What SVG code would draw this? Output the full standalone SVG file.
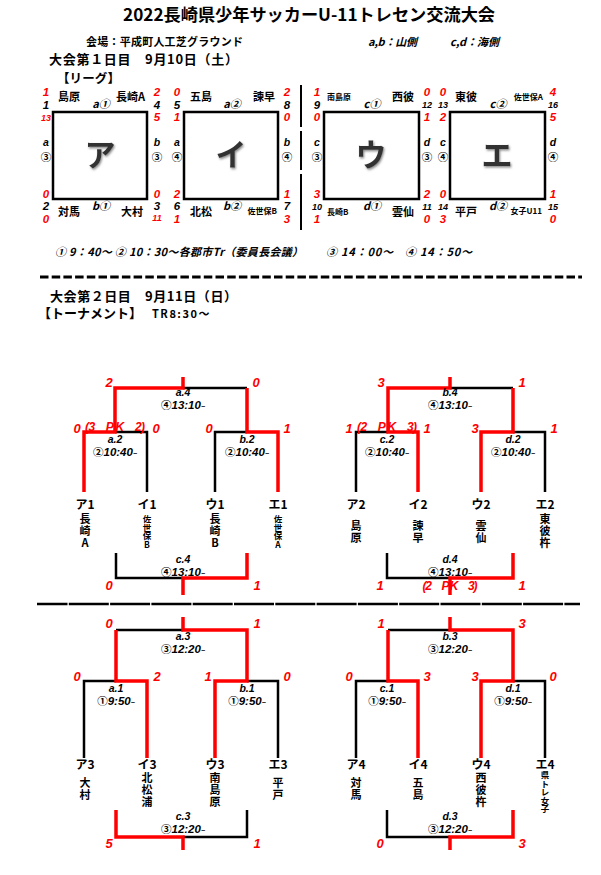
<svg xmlns="http://www.w3.org/2000/svg" width="601" height="875" viewBox="0 0 601 875">
<defs>
<style>
text{font-family:"Liberation Sans","Noto Sans CJK JP",sans-serif;font-weight:bold;fill:#000}
.j{font-family:"Noto Sans CJK JP",sans-serif}
.c{text-anchor:middle}
.e{text-anchor:end}
.r{fill:#f00}
.k0{fill:#000}
.i{font-style:italic}
.n{font-size:13px;text-anchor:middle;font-style:italic}
.q{font-size:11.5px;text-anchor:middle;font-style:italic}
.sm{font-size:9px}
.tm{font-size:11px;font-family:"Noto Sans CJK JP",sans-serif}
.ts{font-size:8px;font-family:"Noto Sans CJK JP",sans-serif}
.cir{font-size:11px;font-family:"Noto Sans CJK JP",sans-serif;text-anchor:middle}
.cj{font-family:"Noto Sans CJK JP",sans-serif;font-style:normal;font-size:10.5px}
.box{fill:#fff;stroke:#000;stroke-width:2.5}
.big{font-size:31px;font-family:"Noto Sans CJK JP",sans-serif;fill:#333;text-anchor:middle;filter:url(#sh)}
.k{fill:none;stroke:#000;stroke-width:2.5}
.rd{fill:none;stroke:#f00;stroke-width:3.5}
.ml{font-size:10.5px;font-style:italic;text-anchor:middle}
.mt{font-size:11.5px}
.tl{font-size:12px;text-anchor:middle;font-family:"Noto Sans CJK JP",sans-serif}
.v{writing-mode:vertical-rl;text-orientation:upright;font-family:"Noto Sans CJK JP",sans-serif;font-size:11px;letter-spacing:1px}
.vs{writing-mode:vertical-rl;text-orientation:upright;font-family:"Noto Sans CJK JP",sans-serif;font-size:8.5px}
.pk{font-size:12px;font-style:italic;text-anchor:middle;fill:#f00}
</style>
<filter id="sh" x="-20%" y="-20%" width="140%" height="140%"><feDropShadow dx="1" dy="1.5" stdDeviation="1" flood-color="#888"/></filter>
</defs>
<rect width="601" height="875" fill="#fff"/>

<g id="header">
<text class="c j" x="309" y="21" font-size="17" textLength="372" lengthAdjust="spacingAndGlyphs">2022長崎県少年サッカーU-11トレセン交流大会</text>
<text class="j" x="86" y="46" font-size="11" textLength="157">会場：平成町人工芝グラウンド</text>
<text class="j i" x="368" y="46" font-size="11" textLength="49">a,b：山側</text>
<text class="j i" x="450" y="46" font-size="11" textLength="49">c,d：海側</text>
<text class="j" x="49" y="64" font-size="13" textLength="189">大会第１日目　9月10日（土）</text>
<text class="j" x="57" y="83" font-size="12.5" textLength="63">【リーグ】</text>
</g>

<line x1="301" y1="85" x2="301" y2="230" stroke="#000" stroke-width="2" stroke-dasharray="42 4 39 4 60"/>

<g id="league-a">
<rect class="box" x="53" y="112" width="94" height="87"/>
<text class="big" x="100" y="166">ア</text>
<text class="q r" x="46" y="96">1<tspan class="k0" x="46" dy="12.5">1</tspan><tspan class="sm" x="46" dy="12.5">13</tspan></text>
<text class="q r" x="157" y="96">2<tspan class="k0" x="157" dy="12.5">4</tspan><tspan x="157" dy="12.5">5</tspan></text>
<text class="ml" x="46" y="146">a<tspan class="cj" x="46" dy="15">③</tspan></text>
<text class="ml" x="157" y="146">b<tspan class="cj" x="157" dy="15">③</tspan></text>
<text class="q r" x="46" y="197.5">0<tspan class="k0" x="46" dy="12.5">2</tspan><tspan x="46" dy="12.5">0</tspan></text>
<text class="q r" x="157" y="197.5">0<tspan class="k0" x="157" dy="12.5">3</tspan><tspan class="sm" x="157" dy="11">11</tspan></text>
<text class="tm" x="58" y="101">島原</text><text class="cir i" x="101" y="108">a①</text><text class="tm e" x="145" y="101" font-size="10.5">長崎A</text>
<text class="tm" x="58" y="216">対馬</text><text class="cir i" x="101" y="210">b①</text><text class="tm e" x="143" y="216">大村</text>
</g>

<g id="league-i">
<rect class="box" x="184" y="112" width="94" height="87"/>
<text class="big" x="231" y="166">イ</text>
<text class="q r" x="177" y="96">0<tspan class="k0" x="177" dy="12.5">5</tspan><tspan x="177" dy="12.5">1</tspan></text>
<text class="q r" x="287" y="96">2<tspan class="k0" x="287" dy="12.5">8</tspan><tspan x="287" dy="12.5">0</tspan></text>
<text class="ml" x="177" y="146">a<tspan class="cj" x="177" dy="15">④</tspan></text>
<text class="ml" x="287" y="146">b<tspan class="cj" x="287" dy="15">④</tspan></text>
<text class="q r" x="177" y="197.5">2<tspan class="k0" x="177" dy="12.5">6</tspan><tspan x="177" dy="12.5">1</tspan></text>
<text class="q r" x="287" y="197.5">1<tspan class="k0" x="287" dy="12.5">7</tspan><tspan x="287" dy="12.5">3</tspan></text>
<text class="tm" x="190" y="101">五島</text><text class="cir i" x="232" y="108">a②</text><text class="tm e" x="275" y="101">諫早</text>
<text class="tm" x="190" y="216">北松</text><text class="cir i" x="232" y="210">b②</text><text class="ts e" x="277" y="214">佐世保B</text>
</g>

<g id="league-u">
<rect class="box" x="324" y="112" width="95" height="87"/>
<text class="big" x="371" y="166">ウ</text>
<text class="q r" x="317" y="96">1<tspan class="k0" x="317" dy="12.5">9</tspan><tspan x="317" dy="12.5">0</tspan></text>
<text class="q r" x="427" y="96">0<tspan class="k0 sm" x="427" dy="12">12</tspan><tspan x="427" dy="13">1</tspan></text>
<text class="ml" x="317" y="146">c<tspan class="cj" x="317" dy="15">③</tspan></text>
<text class="ml" x="427" y="146">d<tspan class="cj" x="427" dy="15">③</tspan></text>
<text class="q r" x="317" y="197.5">3<tspan class="k0 sm" x="317" dy="12.5">10</tspan><tspan x="317" dy="12.5">1</tspan></text>
<text class="q r" x="427" y="197.5">2<tspan class="k0 sm" x="427" dy="12.5">11</tspan><tspan x="427" dy="12.5">0</tspan></text>
<text class="ts" x="327" y="100" font-size="8.7">南島原</text><text class="cir i" x="372" y="108">c①</text><text class="tm e" x="414" y="101">西彼</text>
<text class="ts" x="327" y="215" font-size="9.5">長崎B</text><text class="cir i" x="372" y="210">d①</text><text class="tm e" x="414" y="216">雲仙</text>
</g>

<g id="league-e">
<rect class="box" x="450" y="112" width="95" height="87"/>
<text class="big" x="497" y="166">エ</text>
<text class="q r" x="443" y="96">0<tspan class="k0 sm" x="443" dy="12">13</tspan><tspan x="443" dy="13">2</tspan></text>
<text class="q r" x="553" y="96">4<tspan class="k0 sm" x="553" dy="12">16</tspan><tspan x="553" dy="13">5</tspan></text>
<text class="ml" x="443" y="146">c<tspan class="cj" x="443" dy="15">④</tspan></text>
<text class="ml" x="553" y="146">d<tspan class="cj" x="553" dy="15">④</tspan></text>
<text class="q r" x="443" y="197.5">0<tspan class="k0 sm" x="443" dy="12.5">14</tspan><tspan x="443" dy="12.5">3</tspan></text>
<text class="q r" x="553" y="197.5">1<tspan class="k0 sm" x="553" dy="12.5">15</tspan><tspan x="553" dy="12.5">0</tspan></text>
<text class="tm" x="455" y="101">東彼</text><text class="cir i" x="498" y="108">c②</text><text class="ts e" x="543" y="100">佐世保A</text>
<text class="tm" x="455" y="216">平戸</text><text class="cir i" x="498" y="210">d②</text><text class="ts e" x="542" y="214" font-size="7.5">女子U11</text>
</g>

<g id="schedule">
<text class="tm i" x="55" y="256" textLength="248">① 9：40～ ② 10：30～各郡市Tr（委員長会議）</text>
<text class="tm i" x="326" y="256" textLength="67">③ 14：00～</text>
<text class="tm i" x="405" y="256" textLength="67">④ 14：50～</text>
</g>

<line x1="40" y1="277" x2="582" y2="277" stroke="#000" stroke-width="3" stroke-dasharray="8.5 3.2"/>

<g id="day2">
<text class="j" x="50" y="301" font-size="13" textLength="187">大会第２日目　9月11日（日）</text>
<text class="j" x="38" y="318" font-size="13">【トーナメント】<tspan font-size="11" x="152" letter-spacing="1.5">TR8:30～</tspan></text>
</g>

<line x1="37" y1="604" x2="580" y2="604" stroke="#000" stroke-width="2.5" stroke-dasharray="40 1.3" stroke-dashoffset="9.5"/>

<g id="connectors">
<path class="k" d="M183 388H247"/>
<path class="k" d="M115 432H147V492"/>
<path class="k" d="M215 492V432H247"/>
<path class="k" d="M116 553V578H183"/>
<path class="rd" d="M183 377V388H115V432H84V492"/>
<path class="rd" d="M247 388V432H278V492"/>
<path class="rd" d="M183 595V578H247V553"/>
<path class="k" d="M450 388H513"/>
<path class="k" d="M388 432H356V492"/>
<path class="k" d="M513 432H545V492"/>
<path class="k" d="M387 553V578H450"/>
<path class="rd" d="M450 377V388H388V432H418V492"/>
<path class="rd" d="M513 388V432H481V492"/>
<path class="rd" d="M450 595V578H513V553"/>
<path class="k" d="M116 630H183"/>
<path class="k" d="M84 758V681H116"/>
<path class="k" d="M247 681H278V758"/>
<path class="k" d="M183 837H247V810"/>
<path class="rd" d="M183 617V630H247V681H215V758"/>
<path class="rd" d="M116 630V681H147V758"/>
<path class="rd" d="M116 810V837H183V850"/>
<path class="k" d="M388 630H450"/>
<path class="k" d="M356 758V681H388"/>
<path class="k" d="M513 681H545V758"/>
<path class="k" d="M387 810V837H450"/>
<path class="rd" d="M450 617V630H513V681H481V758"/>
<path class="rd" d="M388 630V681H418V758"/>
<path class="rd" d="M450 850V837H513V810"/>
</g>

<g id="match-a4">
<text class="n r" x="109" y="387">2</text><text class="n r" x="256" y="387">0</text>
<text class="ml" x="183" y="396">a.4<tspan class="mt" x="183" dy="12.5"><tspan class="cj">④</tspan>13:10<tspan font-size="7">~</tspan></tspan></text>
</g>
<g id="match-a2">
<text class="n r" x="77" y="433">0</text><text class="pk" x="115" y="431" textLength="60">(3　P K　2)</text><text class="n r" x="156" y="433">0</text>
<text class="ml" x="115" y="443">a.2<tspan class="mt" x="115" dy="12.5"><tspan class="cj">②</tspan>10:40<tspan font-size="7">~</tspan></tspan></text>
</g>
<g id="match-b2">
<text class="n r" x="209" y="433">0</text><text class="n r" x="287" y="433">1</text>
<text class="ml" x="247" y="443">b.2<tspan class="mt" x="247" dy="12.5"><tspan class="cj">②</tspan>10:40<tspan font-size="7">~</tspan></tspan></text>
</g>
<g id="match-c4">
<text class="ml" x="183" y="563">c.4<tspan class="mt" x="183" dy="12.5"><tspan class="cj">④</tspan>13:10<tspan font-size="7">~</tspan></tspan></text>
<text class="n r" x="109" y="590">0</text><text class="n r" x="257" y="590">1</text>
</g>
<g id="team-a1"><text class="tl" x="85" y="509">ア1</text><text class="v" x="85" y="513">長崎A</text></g>
<g id="team-i1"><text class="tl" x="147" y="509">イ1</text><text class="vs" x="147" y="515">佐世保B</text></g>
<g id="team-u1"><text class="tl" x="215" y="509">ウ1</text><text class="v" x="215" y="513">長崎B</text></g>
<g id="team-e1"><text class="tl" x="278" y="509">エ1</text><text class="vs" x="278" y="515">佐世保A</text></g>

<g id="match-b4">
<text class="n r" x="381" y="387">3</text><text class="n r" x="522" y="387">1</text>
<text class="ml" x="450" y="396">b.4<tspan class="mt" x="450" dy="12.5"><tspan class="cj">④</tspan>13:10<tspan font-size="7">~</tspan></tspan></text>
</g>
<g id="match-c2">
<text class="n r" x="349" y="433">1</text><text class="pk" x="387" y="431" textLength="60">(2　P K　3)</text><text class="n r" x="427" y="433">1</text>
<text class="ml" x="387" y="443">c.2<tspan class="mt" x="387" dy="12.5"><tspan class="cj">②</tspan>10:40<tspan font-size="7">~</tspan></tspan></text>
</g>
<g id="match-d2">
<text class="n r" x="475" y="433">3</text><text class="n r" x="554" y="433">1</text>
<text class="ml" x="513" y="443">d.2<tspan class="mt" x="513" dy="12.5"><tspan class="cj">②</tspan>10:40<tspan font-size="7">~</tspan></tspan></text>
</g>
<g id="match-d4">
<text class="ml" x="450" y="563">d.4<tspan class="mt" x="450" dy="12.5"><tspan class="cj">④</tspan>13:10<tspan font-size="7">~</tspan></tspan></text>
<text class="n r" x="380" y="590">1</text><text class="pk" x="450" y="590" textLength="55">(2　P K　3)</text><text class="n r" x="522" y="590">1</text>
</g>
<g id="team-a2"><text class="tl" x="356" y="509">ア2</text><text class="v" x="356" y="520">島原</text></g>
<g id="team-i2"><text class="tl" x="418" y="509">イ2</text><text class="v" x="418" y="520">諫早</text></g>
<g id="team-u2"><text class="tl" x="481" y="509">ウ2</text><text class="v" x="481" y="520">雲仙</text></g>
<g id="team-e2"><text class="tl" x="545" y="509">エ2</text><text class="v" x="545" y="513">東彼杵</text></g>

<g id="match-a3">
<text class="n r" x="109" y="628">0</text><text class="n r" x="257" y="628">1</text>
<text class="ml" x="183" y="640">a.3<tspan class="mt" x="183" dy="13"><tspan class="cj">③</tspan>12:20<tspan font-size="7">~</tspan></tspan></text>
</g>
<g id="match-a1">
<text class="n r" x="77" y="681">0</text><text class="n r" x="157" y="681">2</text>
<text class="ml" x="116" y="692">a.1<tspan class="mt" x="116" dy="13"><tspan class="cj">①</tspan>9:50<tspan font-size="7">~</tspan></tspan></text>
</g>
<g id="match-b1">
<text class="n r" x="208" y="681">1</text><text class="n r" x="287" y="681">0</text>
<text class="ml" x="247" y="692">b.1<tspan class="mt" x="247" dy="13"><tspan class="cj">①</tspan>9:50<tspan font-size="7">~</tspan></tspan></text>
</g>
<g id="match-c3">
<text class="ml" x="183" y="820">c.3<tspan class="mt" x="183" dy="13"><tspan class="cj">③</tspan>12:20<tspan font-size="7">~</tspan></tspan></text>
<text class="n r" x="109" y="848">5</text><text class="n r" x="257" y="848">1</text>
</g>
<g id="team-a3"><text class="tl" x="85" y="769">ア3</text><text class="v" x="85" y="777">大村</text></g>
<g id="team-i3"><text class="tl" x="147" y="769">イ3</text><text class="v" x="147" y="772">北松浦</text></g>
<g id="team-u3"><text class="tl" x="215" y="769">ウ3</text><text class="v" x="215" y="772">南島原</text></g>
<g id="team-e3"><text class="tl" x="278" y="769">エ3</text><text class="v" x="278" y="777">平戸</text></g>

<g id="match-b3">
<text class="n r" x="381" y="628">1</text><text class="n r" x="522" y="628">3</text>
<text class="ml" x="450" y="640">b.3<tspan class="mt" x="450" dy="13"><tspan class="cj">③</tspan>12:20<tspan font-size="7">~</tspan></tspan></text>
</g>
<g id="match-c1">
<text class="n r" x="349" y="681">0</text><text class="n r" x="427" y="681">3</text>
<text class="ml" x="387" y="692">c.1<tspan class="mt" x="387" dy="13"><tspan class="cj">①</tspan>9:50<tspan font-size="7">~</tspan></tspan></text>
</g>
<g id="match-d1">
<text class="n r" x="475" y="681">3</text><text class="n r" x="553" y="681">0</text>
<text class="ml" x="513" y="692">d.1<tspan class="mt" x="513" dy="13"><tspan class="cj">①</tspan>9:50<tspan font-size="7">~</tspan></tspan></text>
</g>
<g id="match-d3">
<text class="ml" x="450" y="820">d.3<tspan class="mt" x="450" dy="13"><tspan class="cj">③</tspan>12:20<tspan font-size="7">~</tspan></tspan></text>
<text class="n r" x="380" y="848">0</text><text class="n r" x="522" y="848">3</text>
</g>
<g id="team-a4"><text class="tl" x="356" y="769">ア4</text><text class="v" x="356" y="777">対馬</text></g>
<g id="team-i4"><text class="tl" x="418" y="769">イ4</text><text class="v" x="418" y="777">五島</text></g>
<g id="team-u4"><text class="tl" x="481" y="769">ウ4</text><text class="v" x="481" y="772">西彼杵</text></g>
<g id="team-e4"><text class="tl" x="545" y="769">エ4</text><text class="vs" x="545" y="771" font-size="7.5">県トレ女子</text></g>
</svg>
